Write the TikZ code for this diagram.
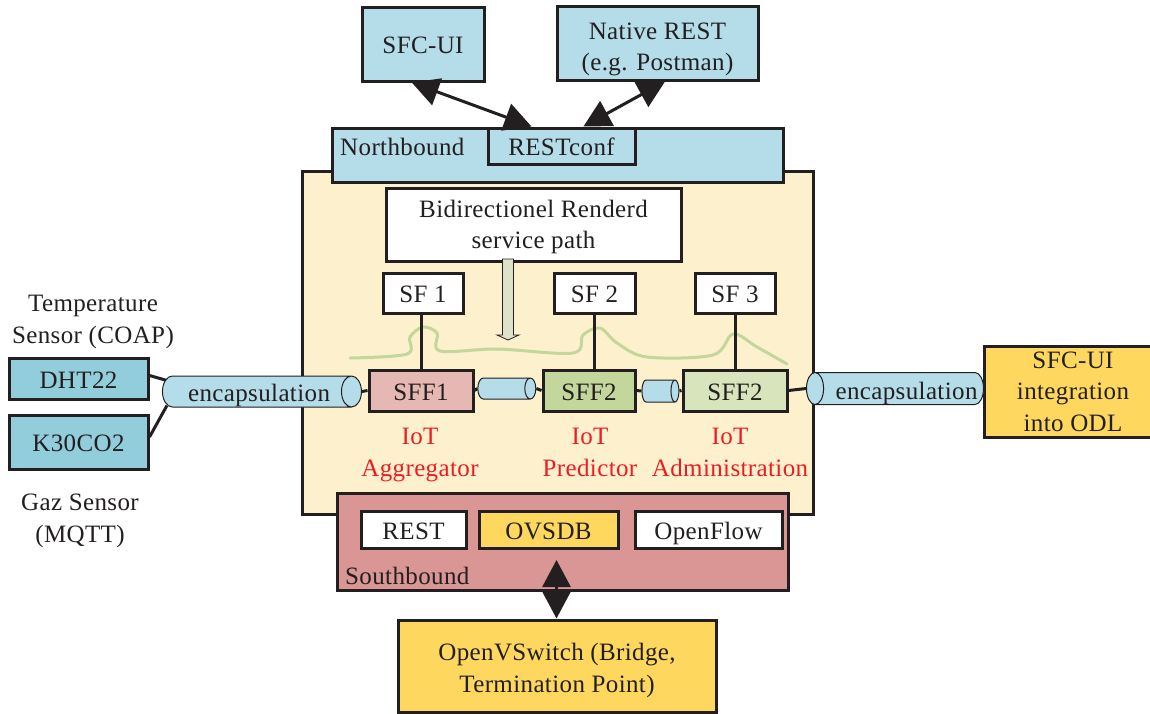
\documentclass[tikz,border=0pt]{standalone}
\usepackage{fontspec}
\setmainfont[LetterSpace=1.5]{Liberation Serif}
\usetikzlibrary{shapes.geometric,arrows.meta,calc}
\definecolor{ink}{HTML}{231F20}
\definecolor{lightblue}{HTML}{B4DCE9}
\definecolor{sensorblue}{HTML}{92CDDC}
\definecolor{goldbox}{HTML}{FED75F}
\definecolor{panelcream}{HTML}{FDF1CD}
\definecolor{sffred}{HTML}{E6B8B3}
\definecolor{sffgreen}{HTML}{C3D69B}
\definecolor{sffpale}{HTML}{D8E4BC}
\definecolor{southred}{HTML}{D99694}
\definecolor{curvegreen}{HTML}{C3D69B}
\definecolor{arrowgrey}{HTML}{DDE2C8}
\definecolor{iotred}{HTML}{ED1C24}
\pgfdeclarelayer{panel}
\pgfdeclarelayer{conn}
\pgfsetlayers{panel,conn,main}
\tikzset{
  every node/.style={font=\fontsize{25}{31.5}\selectfont,text=ink,align=center,inner sep=0pt},
  box/.style={draw=ink,line width=3pt,minimum width=#1,anchor=center},
  oneline/.style={text height=19pt,text depth=0pt},
  twolines/.style={text height=#1,text depth=0pt},
  conn/.style={draw=ink,line width=3pt},
  bigarrow/.style={draw=ink,line width=3pt,{Triangle[length=27pt,width=28pt]}-{Triangle[length=27pt,width=28pt]}},
  tube/.style={draw=ink,line width=1pt,fill=lightblue,shape=cylinder,shape border rotate=0,oneline,
    cylinder uses custom fill,cylinder body fill=lightblue,cylinder end fill=lightblue,aspect=1.05},
  iot/.style={text=iotred,twolines=50pt},
}
\newcommand{\bx}[8][oneline]{% options,name,x0,y0,x1,y1,fill,text
  \node[box=#5pt-#3pt,minimum height=#6pt-#4pt,fill=#7,#1] (#2) at ({(#3+#5)/2},{(#4+#6)/2}) {#8};}
\begin{document}
\begin{tikzpicture}[x=1pt,y=-1pt]
\clip (0,0) rectangle (1150,713);
\begin{pgfonlayer}{panel}
  \node[box=511pt,minimum height=343pt,fill=panelcream] (mainpanel) at (557.5,342.5) {};
  \node[box=451pt,minimum height=54pt,fill=lightblue] (north) at (557.5,155) {};
  \node[box=451pt,minimum height=97pt,fill=southred] (south) at (562.5,541.5) {};
\end{pgfonlayer}
\node[anchor=west,oneline] (northlabel) at (340,146) {Northbound};
\node[anchor=west,oneline] (southlabel) at (345,575) {Southbound};
\bx{sfcui}{362}{7}{484}{81}{lightblue}{SFC-UI}
\bx[twolines=55pt]{native}{557}{6}{758}{80}{lightblue}{Native REST\\(e.g. Postman)}
\bx{restconf}{488}{128}{635}{164}{lightblue}{RESTconf}
\bx[twolines=48pt]{brsp}{386}{188}{681}{261}{white}{Bidirectionel Renderd\\service path}
\bx{sfa}{383}{273}{463}{313}{white}{SF 1}
\bx{sfb}{554}{273}{635}{313}{white}{SF 2}
\bx{sfc}{695}{273}{775}{313}{white}{SF 3}
\bx{sffa}{369}{370}{473}{411}{sffred}{SFF1}
\bx{sffb}{543}{370}{635}{411}{sffgreen}{SFF2}
\bx{sffc}{683}{370}{787}{411}{sffpale}{SFF2}
\bx{dht}{9}{358}{148}{399}{sensorblue}{DHT22}
\bx{kco}{9}{415}{148}{469}{sensorblue}{K30CO2}
\bx[twolines=79pt]{odl}{984}{346}{1162}{437}{goldbox}{SFC-UI\\integration\\into ODL}
\bx{rest}{361}{511}{466}{548}{white}{REST}
\bx{ovsdb}{479}{511}{618}{548}{goldbox}{OVSDB}
\bx{openflow}{635}{511}{782}{548}{white}{OpenFlow}
\bx[twolines=52pt]{ovs}{398}{620}{716}{712}{goldbox}{OpenVSwitch (Bridge,\\Termination Point)}
\node[tube,minimum width=31pt,minimum height=199pt] (tubeleft) at (256.7,391.5) {};
\node[tube,aspect=0.58,minimum width=21pt,minimum height=58pt] (tubea) at (503.8,388.5) {};
\node[tube,aspect=0.42,minimum width=22pt,minimum height=37pt] (tubeb) at (658.2,391) {};
\node[tube,aspect=0.9,shape border rotate=180,minimum width=32pt,minimum height=177pt] (tuberight) at (899.5,388.5) {};
\node[oneline] (leftenc) at (259,391.5) {encapsulation};
\node[oneline] (rightenc) at (906.5,390) {encapsulation};
\node[twolines=50pt] (templabel) at (93,318) {Temperature\\Sensor (COAP)};
\node[twolines=50pt] (gazlabel) at (80,517) {Gaz Sensor\\(MQTT)};
\node[iot] (iota) at (420,451) {IoT\\Aggregator};
\node[iot] (iotb) at (590,451) {IoT\\Predictor};
\node[iot] (iotc) at (730,451) {IoT\\Administration};
\coordinate (ovstop) at (556.5,560);
\begin{pgfonlayer}{conn}
  \draw[curvegreen,line width=3pt,line cap=round] plot[smooth,tension=0.55] coordinates {
    (350,358) (407,354) (410,337) (423,327) (437,333) (440,351) (497,349) (573,353)
    (583,335) (600,328) (617,343) (647,357) (713,355) (733,334) (757,347) (787,364)};
  \draw[conn] (sffa.north) -- (sffa.north |- sfa.south);
  \draw[conn] (sfb.south) -- (sfb.south |- sffb.north);
  \draw[conn] (sfc.south) -- (sfc.south |- sffc.north);
  \draw[conn] (tubeleft.east) -- (sffa.west);
  \draw[conn] (sffa.east) -- (tubea.west);
  \draw[conn] (tubea.east) -- (sffb.west);
  \draw[conn] (sffb.east) -- (tubeb.west);
  \draw[conn] (tubeb.east) -- (sffc.west);
  \draw[conn] (sffc.east) -- (tuberight.west);
  \draw[conn] ($(dht.east)+(0,-3)$) -- ($(tubeleft.west)+(5,-11)$);
  \draw[conn] ($(kco.east)+(0,-5)$) -- ($(tubeleft.west)+(5,14)$);
\end{pgfonlayer}
\draw[bigarrow] ($(sfcui.south west)!0.41!(sfcui.south east)$) -- ($(restconf.north west)!0.3!(restconf.north east)$);
\draw[bigarrow] ($(native.south west)!0.537!(native.south east)$) -- ($(restconf.north west)!0.646!(restconf.north east)$);
\draw[bigarrow] (ovstop) -- (ovs.north -| ovstop);
\draw[draw=ink,line width=0.8pt,fill=arrowgrey] (502.5,259) -- (513.5,259) -- (513.5,335) -- (519,335) -- (508,340) -- (497,335) -- (502.5,335) -- cycle;
\end{tikzpicture}
\end{document}
